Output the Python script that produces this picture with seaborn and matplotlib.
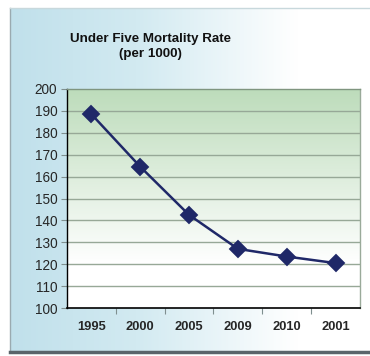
import numpy as np
import matplotlib
matplotlib.use("Agg")
import matplotlib.pyplot as plt
from matplotlib.colors import LinearSegmentedColormap
import seaborn as sns

years = ["1995", "2000", "2005", "2009", "2010", "2001"]
rates = [188.5, 164.5, 142.5, 127.0, 123.5, 120.5]
yticks = [100, 110, 120, 130, 140, 150, 160, 170, 180, 190, 200]
title = "Under Five Mortality Rate\n(per 1000)"

sns.set_theme(style="white")
plt.rcParams["font.family"] = ["Liberation Sans", "DejaVu Sans"]

W, H = 370, 356
fig = plt.figure(figsize=(W / 100, H / 100), dpi=100)
fig.patch.set_facecolor("white")

# outer panel with horizontal blue->white gradient
bg = fig.add_axes([10 / W, 4 / H, 360 / W, (352 - 8) / H])
grad_cmap = LinearSegmentedColormap.from_list(
    "bg", [(0, "#c0e0eb"), (0.35, "#d2eaf1"), (0.8, "#ffffff"), (1, "#ffffff")])
bg.imshow(np.linspace(0, 1, 256)[None, :], aspect="auto", cmap=grad_cmap,
          extent=[0, 1, 0, 1])
bg.set_xlim(0, 1)
bg.set_ylim(0, 1)
bg.set_xticks([])
bg.set_yticks([])
bg.spines["right"].set_visible(False)
bg.spines["left"].set_color("#9aaab0")
bg.spines["left"].set_linewidth(1)
bg.spines["bottom"].set_color("#5a646a")
bg.spines["bottom"].set_linewidth(2.5)
bg.spines["top"].set_color("#c8d8dc")
bg.spines["top"].set_linewidth(1)

# main plot
ax = fig.add_axes([67 / W, (H - 308) / H, (360 - 67) / W, (308 - 89) / H])
green_cmap = LinearSegmentedColormap.from_list(
    "pg", [(0, "#ffffff"), (0.2, "#ffffff"), (1, "#bddcbb")])
ax.imshow(np.linspace(0, 1, 256)[:, None], aspect="auto", cmap=green_cmap,
          origin="lower", extent=[-0.5, 5.5, 100, 200], zorder=0)

for t in yticks[1:-1]:
    ax.axhline(t, color="#97a897", lw=1, zorder=1)

sns.pointplot(x=years, y=rates, ax=ax, color="#1f2868", markers="D",
              linestyles="-", order=years, markersize=8, linewidth=1.8)

ax.set_xlim(-0.5, 5.5)
ax.set_ylim(100, 200)
ax.set_yticks(yticks)
ax.set_yticklabels([str(v) for v in yticks], fontsize=9.8)
ax.set_xticks(range(len(years)))
ax.set_xticklabels(years, fontsize=9.3, fontweight="bold")
ax.set_xticks(np.arange(0.5, 5.5, 1), minor=True)
ax.tick_params(axis="x", which="major", length=0, pad=9)
ax.tick_params(axis="x", which="minor", length=4, color="#7f8f8f", width=0.8,
               direction="out", bottom=True)
ax.tick_params(axis="y", which="major", length=4, color="#7f8f8f", width=0.8,
               direction="out", left=True, pad=3)
ax.set_xlabel("")
ax.set_ylabel("")
ax.spines["left"].set_color("#000000")
ax.spines["left"].set_linewidth(1)
ax.spines["bottom"].set_color("#000000")
ax.spines["bottom"].set_linewidth(1.2)
ax.spines["top"].set_color("#7f957f")
ax.spines["top"].set_linewidth(1)
ax.spines["right"].set_color("#9aaa9a")
ax.spines["right"].set_linewidth(1)

fig.text(150 / W, 1 - 33 / H, title, ha="center", va="top", fontsize=9.6,
         fontweight="bold", color="#111111", linespacing=1.3)

fig.savefig("out.png", dpi=100)
